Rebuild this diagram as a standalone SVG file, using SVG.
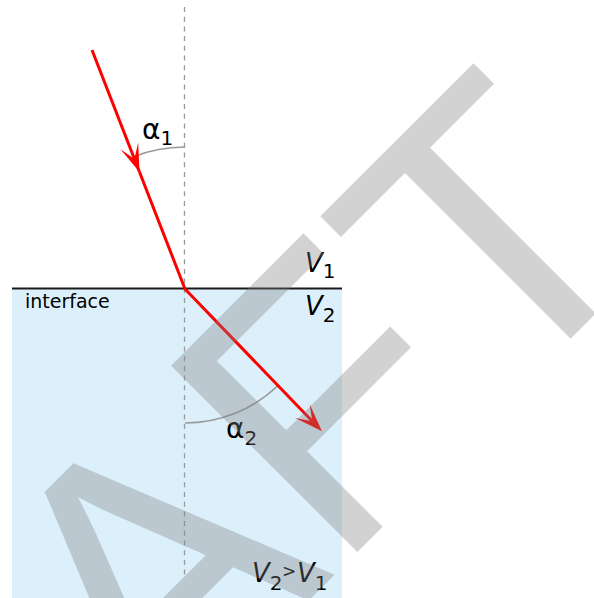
<svg xmlns="http://www.w3.org/2000/svg" width="594" height="598" viewBox="0 0 594 598">
<style>
.lbl{font-family:"DejaVu Sans","Liberation Sans",sans-serif;fill:#000}
.it{font-style:italic}
.arc{fill:none;stroke:#999;stroke-width:1.6}
.ray{fill:none;stroke:#ff0000;stroke-width:3}
.wm{font-family:"Liberation Sans",Arial,sans-serif;font-size:383px;fill:#808080;opacity:0.35}
</style>
<defs>
<marker id="headMid" markerUnits="userSpaceOnUse" orient="auto" refX="0" refY="0" overflow="visible">
<path d="M0,0 L-28,-9.5 L-14,0 L-28,9.5 Z" fill="#ff0000"/>
</marker>
<marker id="headEnd" markerUnits="userSpaceOnUse" orient="auto" refX="-7" refY="0" overflow="visible">
<path d="M0,0 L-28,-10 L-14,0 L-28,10 Z" fill="#ff0000"/>
</marker>
</defs>
<rect id="medium2" x="12" y="289" width="330" height="309" fill="#dcf0fb"/>
<g id="normal">
<line x1="184.5" y1="7" x2="184.5" y2="575" stroke="#999" stroke-width="1.3" stroke-dasharray="5,4.7"/>
</g>
<g id="interface">
<line x1="12" y1="288.5" x2="342" y2="288.5" stroke="#1a1a1a" stroke-width="2"/>
<text class="lbl" x="25" y="308" font-size="19">interface</text>
</g>
<g id="angle1">
<path class="arc" d="M133.5,156.7 A142,142 0 0 1 184.5,147"/>
<text class="lbl" x="142" y="139" font-size="28">α<tspan font-size="20" dy="6">1</tspan></text>
</g>
<g id="angle2">
<path class="arc" d="M185,423 A134,134 0 0 0 278,385.5"/>
<text class="lbl" x="226" y="438" font-size="28">α<tspan font-size="20" dy="7">2</tspan></text>
</g>
<g id="v1">
<text class="lbl it" x="305" y="272" font-size="26">V<tspan font-style="normal" font-size="20" dy="6">1</tspan></text>
</g>
<g id="v2">
<text class="lbl it" x="305" y="315" font-size="26">V<tspan font-style="normal" font-size="20" dy="7">2</tspan></text>
</g>
<g id="relation">
<text class="lbl it" x="252" y="582" font-size="26">V<tspan font-style="normal" font-size="20" dy="8">2</tspan><tspan font-style="normal" font-size="17" dy="-13" x="282">&gt;</tspan><tspan dy="5" x="297">V</tspan><tspan font-style="normal" font-size="20" dy="8">1</tspan></text>
</g>
<g id="connectors">
<path class="ray" d="M92,50 L139.5,172" marker-end="url(#headMid)"/>
<path class="ray" d="M139.5,172 L185,289 L317.1,426.2" marker-end="url(#headEnd)"/>
</g>
<g id="watermark">
<text class="wm" transform="rotate(-45)" x="-424.5" y="643">AFT</text>
</g>
</svg>
